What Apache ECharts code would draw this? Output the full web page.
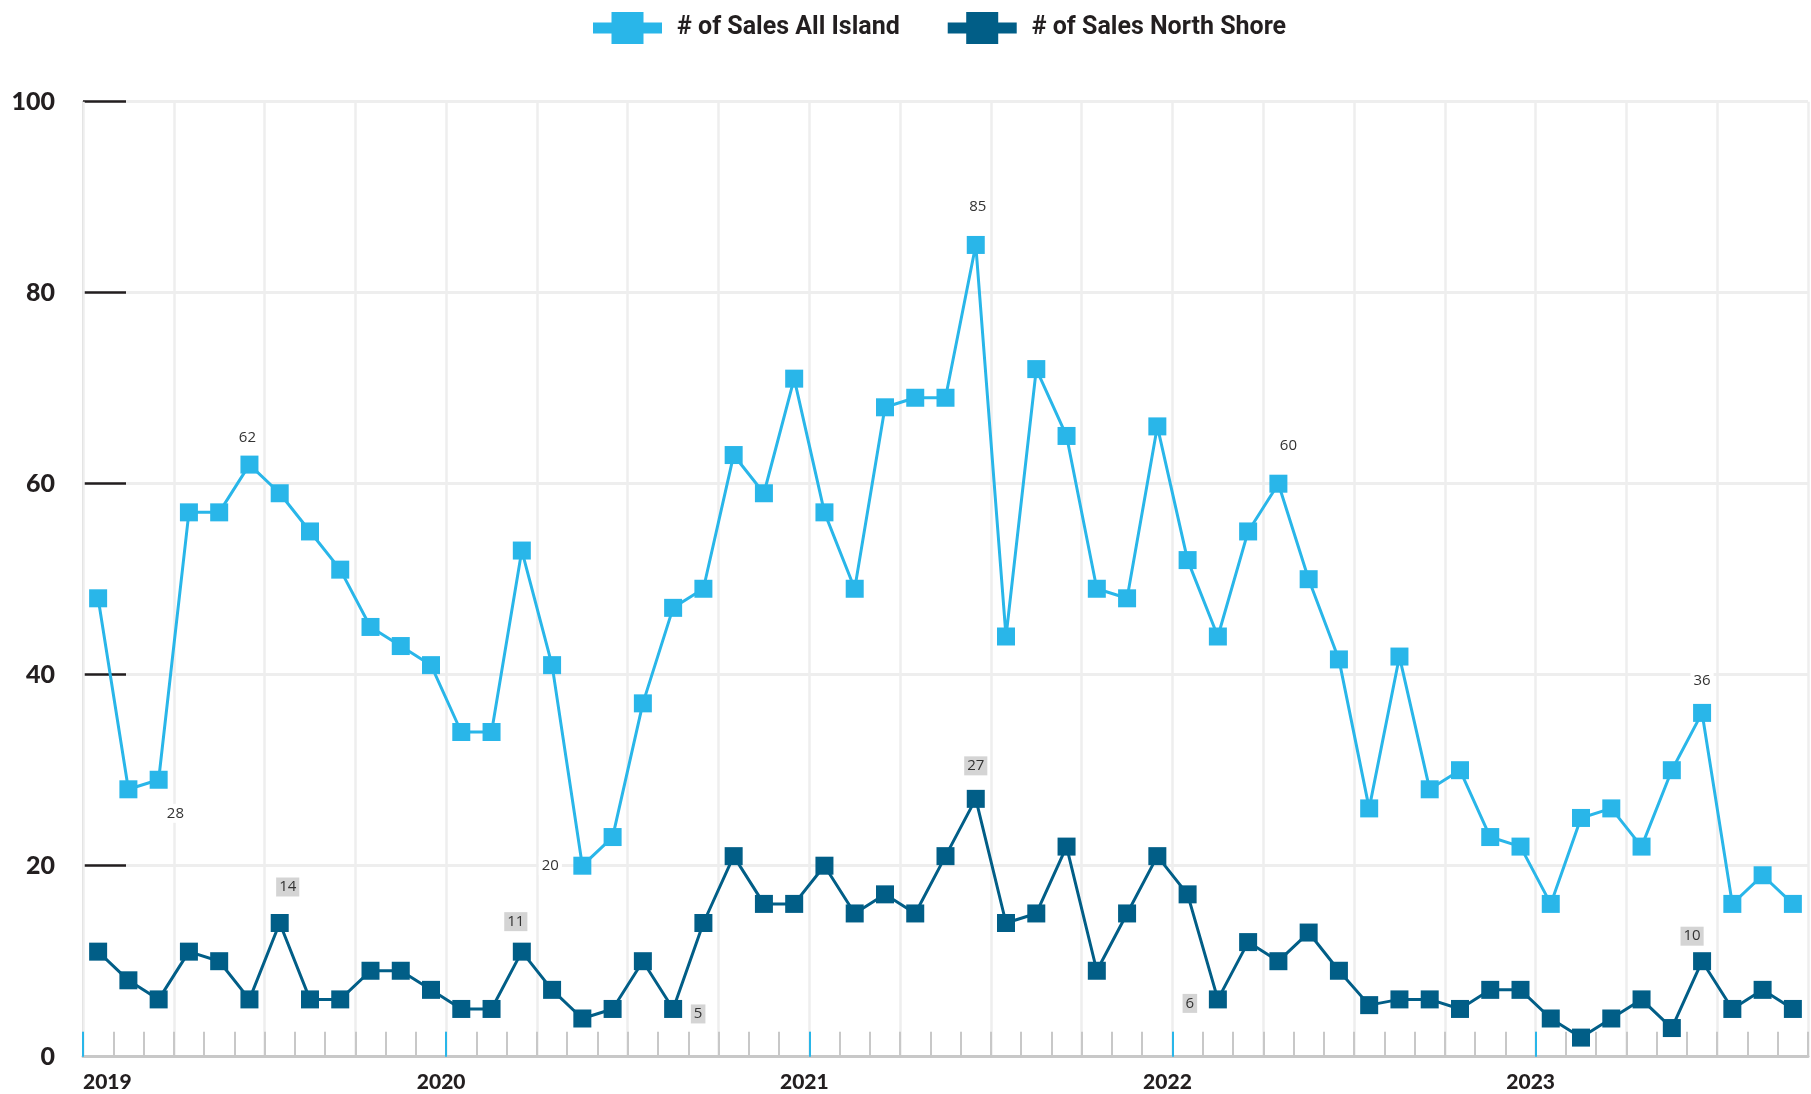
<!DOCTYPE html>
<html>
<head>
<meta charset="utf-8">
<script src="https://cdn.jsdelivr.net/npm/echarts@6/dist/echarts.min.js"></script>
<style>html,body{margin:0;padding:0;background:#fff;}#c{width:1811px;height:1094px;}</style>
</head>
<body>
<div id="c"></div>
<script>
// ---- data ----
const months = [
  '2019-01','2019-02','2019-03','2019-04','2019-05','2019-06','2019-07','2019-08','2019-09','2019-10','2019-11','2019-12',
  '2020-01','2020-02','2020-03','2020-04','2020-05','2020-06','2020-07','2020-08','2020-09','2020-10','2020-11','2020-12',
  '2021-01','2021-02','2021-03','2021-04','2021-05','2021-06','2021-07','2021-08','2021-09','2021-10','2021-11','2021-12',
  '2022-01','2022-02','2022-03','2022-04','2022-05','2022-06','2022-07','2022-08','2022-09','2022-10','2022-11','2022-12',
  '2023-01','2023-02','2023-03','2023-04','2023-05','2023-06','2023-07','2023-08','2023-09'
];
const yearLabels = ['2019','2020','2021','2022','2023'];
const yTicks = [0, 20, 40, 60, 80, 100];
const allIsland = [
  48,28,29,57,57,62,59,55,51,45,43,41,
  34,34,53,41,20,23,37,47,49,63,59,71,
  57,49,68,69,69,85,44,72,65,49,48,66,
  52,44,55,60,50,41.6,26,41.9,28,30,23,22,
  16,25,26,22,30,36,16,19,16
];
const northShore = [
  11,8,6,11,10,6,14,6,6,9,9,7,
  5,5,11,7,4,5,10,5,14,21,16,16,
  20,15,17,15,21,27,14,15,22,9,15,21,
  17,6,12,10,13,9,5.4,6,6,5,7,7,
  4,2,4,6,3,10,5,7,5
];
// indices of labelled points
const allLabelIdx = [1, 5, 16, 29, 39, 53];
const northLabelIdx = [6, 14, 19, 29, 37, 53];

// ---- label placement (style, not data) ----
const allLabelOffset = {1:[47,24], 5:[-2,-27], 16:[-32,0], 29:[2,-38], 39:[10,-38], 53:[0,-32]};
const northLabelOffset = {6:[8,-36], 14:[-6,-30], 19:[25,5], 29:[0,-33], 37:[-28,4], 53:[-10,-25]};

const LIGHT = '#29b6e9';
const DARK = '#015e87';
const INK = '#231f20';

function withLabels(values, idxList, offsets, bg) {
  return values.map(function (v, i) {
    if (idxList.indexOf(i) < 0) return v;
    return {
      value: v,
      label: {
        show: true,
        position: 'inside',
        offset: offsets[i],
        color: '#333',
        fontFamily: 'Open Sans',
        fontSize: 15,
        lineHeight: 17,
        backgroundColor: bg,
        padding: [1, 3]
      }
    };
  });
}

const chart = echarts.init(document.getElementById('c'), null, {renderer: 'canvas'});
const gridW = 1811 - 83 - 3;
const option = {
  animation: false,
  backgroundColor: '#fff',
  legend: {
    left: 588,
    top: 7,
    itemWidth: 69,
    itemHeight: 32,
    itemGap: 48,
    icon: 'path://M0,10.5H18.5V0H50.5V10.5H69V21.5H50.5V32H18.5V21.5H0Z',
    textStyle: {
      fontFamily: 'Liberation Sans Narrow, Roboto, sans-serif',
      fontWeight: 'bold',
      fontSize: 25,
      color: INK,
      padding: [0, 0, 0, 10]
    },
    data: ['# of Sales All Island', '# of Sales North Shore']
  },
  grid: [
    {left: 83, right: 3, top: 101.7, bottom: 37.3, containLabel: false, outerBoundsMode: 'none'},
    {left: 83, width: gridW * 60 / 57, top: 101.7, bottom: 37.3, containLabel: false, outerBoundsMode: 'none'}
  ],
  xAxis: [
    {
      type: 'category',
      gridIndex: 0,
      data: months,
      boundaryGap: true,
      z: 1,
      axisLine: {show: true, lineStyle: {color: '#c8c8c8', width: 3}},
      axisTick: {show: true, interval: 0, inside: true, length: 25, lineStyle: {color: '#c8c8c8', width: 2}},
      axisLabel: {show: false},
      splitLine: {show: true, interval: 2, lineStyle: {color: '#eeeeee', width: 2.5}}
    },
    {
      type: 'value',
      gridIndex: 1,
      min: 0,
      max: 60,
      interval: 12,
      z: 1,
      axisLine: {show: false},
      axisTick: {show: true, inside: true, length: 25, lineStyle: {color: LIGHT, width: 2}},
      splitLine: {show: false},
      axisLabel: {
        show: true,
        margin: 15,
        alignMinLabel: 'left',
        color: INK,
        fontFamily: 'Lato',
        fontWeight: 900,
        fontSize: 21,
        padding: [0, 10, 0, 0],
        formatter: function (v) { return v % 12 === 0 ? (yearLabels[v / 12] || '') : ''; }
      }
    }
  ],
  yAxis: [
    {
      type: 'value',
      gridIndex: 0,
      min: yTicks[0],
      max: yTicks[yTicks.length - 1],
      interval: yTicks[1] - yTicks[0],
      z: 0,
      axisLine: {show: true, lineStyle: {color: '#c8c8c8', width: 2}},
      axisTick: {show: true, inside: true, length: 43, lineStyle: {color: INK, width: 2.5}},
      axisLabel: {
        margin: 28,
        color: INK,
        fontFamily: 'Lato',
        fontWeight: 900,
        fontSize: 25
      },
      splitLine: {show: true, lineStyle: {color: '#eeeeee', width: 3}}
    },
    {type: 'value', gridIndex: 1, min: 0, max: 100, show: false}
  ],
  series: [
    {
      name: '# of Sales All Island',
      type: 'line',
      xAxisIndex: 0,
      yAxisIndex: 0,
      data: withLabels(allIsland, allLabelIdx, allLabelOffset, '#ffffff'),
      symbol: 'rect',
      symbolSize: 18,
      showAllSymbol: true,
      itemStyle: {color: LIGHT},
      lineStyle: {color: LIGHT, width: 3},
      emphasis: {disabled: true},
      z: 3
    },
    {
      name: '# of Sales North Shore',
      type: 'line',
      xAxisIndex: 0,
      yAxisIndex: 0,
      data: withLabels(northShore, northLabelIdx, northLabelOffset, '#d4d4d4'),
      symbol: 'rect',
      symbolSize: 18,
      showAllSymbol: true,
      itemStyle: {color: DARK},
      lineStyle: {color: DARK, width: 3},
      emphasis: {disabled: true},
      z: 3
    }
  ]
};
chart.setOption(option);
</script>
</body>
</html>
